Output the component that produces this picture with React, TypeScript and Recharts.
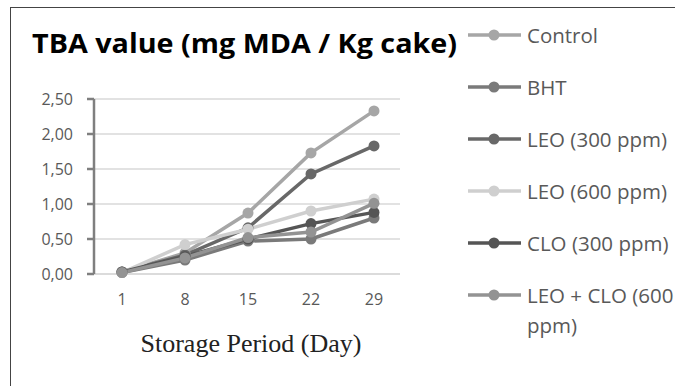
import React from 'react';
import { LineChart, Line, XAxis, YAxis, CartesianGrid, Legend } from 'recharts';

const days = ['1', '8', '15', '22', '29'];
const control = [0.03, 0.3, 0.87, 1.73, 2.33];
const bht = [0.02, 0.2, 0.47, 0.5, 0.8];
const leo300 = [0.03, 0.27, 0.66, 1.43, 1.83];
const leo600 = [0.02, 0.42, 0.64, 0.9, 1.07];
const clo300 = [0.03, 0.25, 0.5, 0.72, 0.88];
const leoClo600 = [0.02, 0.23, 0.52, 0.6, 1.01];
const yTicks = [0, 0.5, 1, 1.5, 2, 2.5];

const series = [
  { key: 'control', name: 'Control', color: '#a6a6a6', values: control },
  { key: 'bht', name: 'BHT', color: '#7a7a7a', values: bht },
  { key: 'leo300', name: 'LEO (300 ppm)', color: '#686868', values: leo300 },
  { key: 'leo600', name: 'LEO (600 ppm)', color: '#cfcfcf', values: leo600 },
  { key: 'clo300', name: 'CLO (300 ppm)', color: '#555555', values: clo300 },
  { key: 'leoClo600', name: 'LEO + CLO (600 ppm)', color: '#939393', values: leoClo600 },
];

const data = days.map((day, i) => {
  const row: Record<string, string | number> = { day };
  series.forEach((s) => { row[s.key] = s.values[i]; });
  return row;
});

const fmt = (v: number) => v.toFixed(2).replace('.', ',');

const LegendBox = () => (
  <div style={{ position: 'absolute', left: 468, top: 22 }}>
    {series.map((s) => (
      <div key={s.key} style={{ display: 'flex', alignItems: 'flex-start', height: 52 }}>
        <svg width={54} height={26} style={{ flexShrink: 0 }}>
          <line x1={0} y1={13} x2={53} y2={13} stroke={s.color} strokeWidth={3.5} />
          <circle cx={26} cy={13} r={5.5} fill={s.color} />
        </svg>
        <span style={{ marginLeft: 5, width: 150, fontSize: 20.5, lineHeight: '30px', marginTop: -2, color: '#595959', fontFamily: '"Open Sans", sans-serif' }}>
          {s.name}
        </span>
      </div>
    ))}
  </div>
);

export default function App() {
  return (
    <div style={{ position: 'absolute', left: 0, top: 0, width: 675, height: 386, background: '#fff', overflow: 'hidden' }}>
      <div style={{ position: 'absolute', left: 10, top: 7, width: 700, height: 400, border: '1.5px solid #444', boxSizing: 'border-box' }} />
      <svg width={470} height={70} style={{ position: 'absolute', left: 0, top: 0 }}>
        <text x={32} y={53} fontSize={26} fontWeight={700} fill="#000" fontFamily='"Open Sans", sans-serif' textLength={425} lengthAdjust="spacingAndGlyphs">
          TBA value (mg MDA / Kg cake)
        </text>
      </svg>
      <LineChart width={675} height={386} data={data} margin={{ top: 99, right: 275, bottom: 82, left: 0 }}>
        <CartesianGrid vertical={false} stroke="#d9d9d9" strokeWidth={1.5} />
        <XAxis
          dataKey="day"
          padding={{ left: 28, right: 26 }}
          axisLine={{ stroke: '#d9d9d9', strokeWidth: 1.5 }}
          tickLine={false}
          tickSize={0}
          tickMargin={20}
          height={30}
          tick={{ fontSize: 16, fill: '#595959', fontFamily: '"Open Sans", sans-serif' }}
          label={{
            content: () => (
              <text x={251} y={352} textAnchor="middle" fontSize={26} fill="#222" fontFamily='"Liberation Serif", serif'>
                Storage Period (Day)
              </text>
            ),
          }}
        />
        <YAxis
          width={94}
          domain={[0, 2.5]}
          ticks={yTicks}
          tickFormatter={fmt}
          axisLine={{ stroke: '#7f7f7f', strokeWidth: 2.5 }}
          tickLine={{ stroke: '#7f7f7f', strokeWidth: 2.5 }}
          tickSize={7}
          tickMargin={14}
          tick={{ fontSize: 16, fill: '#595959', fontFamily: '"Open Sans", sans-serif' }}
        />
        {series.map((s) => (
          <Line
            key={s.key}
            dataKey={s.key}
            name={s.name}
            stroke={s.color}
            strokeWidth={3.5}
            dot={{ r: 5.5, fill: s.color, stroke: s.color, strokeWidth: 0 }}
            isAnimationActive={false}
          />
        ))}
        <Legend content={() => null} />
      </LineChart>
      <LegendBox />
    </div>
  );
}
